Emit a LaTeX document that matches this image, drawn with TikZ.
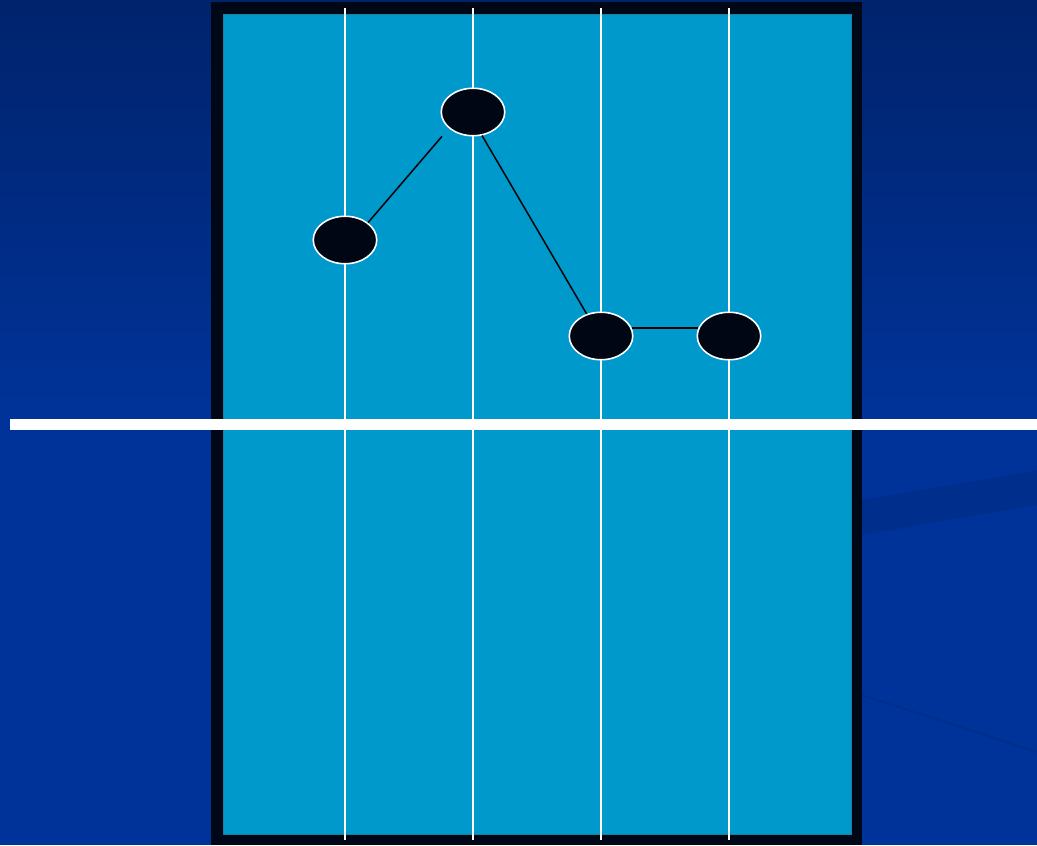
\documentclass[tikz,border=0pt]{standalone}
\usepackage{tikz}
\usetikzlibrary{shapes.geometric,calc}
\definecolor{slidebg}{HTML}{003399}
\definecolor{slidetop}{HTML}{00236C}
\definecolor{streak}{HTML}{002E8C}
\definecolor{boardframe}{HTML}{000818}
\definecolor{boardface}{HTML}{0099CC}
\definecolor{boardedge}{HTML}{1A7FA0}
\definecolor{dotfill}{HTML}{000614}

\begin{document}
\begin{tikzpicture}[x=0.02cm,y=-0.02cm,line width=0.5pt,
  dotnode/.style={ellipse,draw=white,fill=dotfill,line width=0.9pt,
    minimum width=1.27cm,minimum height=0.95cm,inner sep=0pt},
  lane/.style={white,line width=1.1pt},
  link/.style={black,line width=0.85pt}]
  \useasboundingbox (0,0) rectangle (1037,845);
  % background of the slide
  \fill[slidebg] (0,0) rectangle (1037,845);
  \shade[top color=slidetop,bottom color=slidebg] (0,0) rectangle (1037,420);
  \fill[streak] (862,500) -- (1037,470) -- (1037,505) -- (862,535) -- cycle;
  \draw[streak,line width=1.2pt] (862,695) -- (1037,752);
  % the board
  \fill[boardframe] (211,2) rectangle (862,845);
  \filldraw[fill=boardface,draw=boardedge,line width=0.4pt] (223,14) rectangle (851,834);
  \foreach \x in {345,473,601,729}
    \draw[lane] (\x,8) -- (\x,840);
  \fill[white] (10,419) rectangle (1037,430);
  % the points
  \node[dotnode] (d1) at (345,240) {};
  \node[dotnode] (d2) at (473,112) {};
  \node[dotnode] (d3) at (601,336) {};
  \node[dotnode] (d4) at (729,336) {};
  \draw[link] (d1.north east) -- ($(d2.south west)+(-8,7)$);
  \draw[link] (d2.-69) -- (d3.123);
  \draw[link] (d3.15) -- (d4.165);
\end{tikzpicture}
\end{document}
